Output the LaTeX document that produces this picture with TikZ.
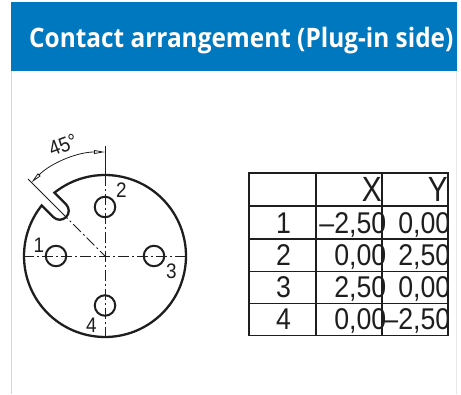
\documentclass[tikz,border=0pt]{standalone}
\usepackage{fontspec}
\setmainfont{Liberation Sans}
\newfontfamily\headfont{Open Sans}
\usetikzlibrary{arrows.meta}
\definecolor{headblue}{RGB}{0,120,191}
\definecolor{ink}{RGB}{30,30,30}
\definecolor{framegray}{RGB}{215,215,215}
\definecolor{framegrayb}{RGB}{232,232,232}
\newcommand{\tabtxt}[1]{\scalebox{0.89}[1]{\fontsize{30}{30}\selectfont #1}}
\newcommand{\hdtxt}[1]{\scalebox{0.85}[1]{\fontsize{35}{35}\selectfont #1}}
\newcommand{\pintxt}[1]{\scalebox{0.9}[1]{\fontsize{21}{21}\selectfont #1}}
\begin{document}
\begin{tikzpicture}[x=1pt,y=-1pt,
  outline/.style={draw=ink, line width=2.3pt},
  pinhole/.style={circle, draw=ink, line width=2pt, minimum size=20.5pt, inner sep=0pt},
  axisline/.style={draw=ink, line width=0.8pt, dash pattern=on 11pt off 3pt on 2pt off 3pt},
  extline/.style={draw=ink, line width=0.8pt},
  dimline/.style={draw=ink, line width=0.8pt, {Triangle[open,length=11pt,width=3.8pt]}-{Triangle[open,length=11pt,width=3.8pt]}},
  grid/.style={draw=ink, line width=1.6pt},
  lbl/.style={inner sep=0pt, text=ink}
]
\useasboundingbox (0,0) rectangle (461,394);
\fill[white] (0,0) rectangle (461,394);
% header
\fill[headblue] (11,2) rectangle (457,71);
\node[anchor=base west, text=white, inner sep=0pt] (title) at (29,47)
  {\scalebox{0.91}[1]{\headfont\bfseries\fontsize{26.8}{30}\selectfont Contact arrangement (Plug-in side)}};
\draw[framegray, line width=1.2pt] (11.5,71) -- (11.5,394);
\draw[framegrayb, line width=1.6pt] (456.5,71) -- (456.5,394);

% connector face with keyway
\coordinate (C) at (105,256);
\draw[outline] (54.44,192.72) arc[start angle=231.37, end angle=578.63, radius=81]
  -- (53.39,217.11) arc[start angle=135, end angle=-45, radius=9] -- cycle;

% centre lines
\coordinate (hl) at (23,256);
\coordinate (hr) at (186,256);
\coordinate (vt) at (105,146);
\coordinate (vc) at (105,175);
\coordinate (vb) at (105,337);
\coordinate (dt) at (28,179);
\coordinate (dk) at (59.75,210.75);
\draw[axisline] (hl) -- (hr);
\draw[extline] (vt) -- (vc);
\draw[axisline] (vc) -- (vb);
\draw[extline] (dt) -- (dk);
\draw[axisline] (dk) -- (C);

% pins
\node[pinhole] (p1) at (56,256) {};
\node[pinhole] (p2) at (105,207) {};
\node[pinhole] (p3) at (154,256) {};
\node[pinhole] (p4) at (105,305.5) {};

\node[lbl, anchor=base] (l1) at (39,252.5) {\pintxt{1}};
\node[lbl, anchor=base] (l2) at (121.5,197) {\pintxt{2}};
\node[lbl, anchor=base] (l3) at (171.5,278) {\pintxt{3}};
\node[lbl, anchor=base] (l4) at (91.5,332) {\pintxt{4}};

% 45 degree dimension
\draw[dimline] (105,152) arc[start angle=270, end angle=225, radius=104];
\node[lbl, rotate=21] (ang) at (63,145) {\scalebox{0.9}[1]{\fontsize{21}{21}\selectfont 45°}};

% table
\draw[grid] (249,173) rectangle (448,335.5);
\foreach \yy in {206,239,271.5,303.5} \draw[grid] (249,\yy) -- (448,\yy);
\draw[grid] (316,173) -- (316,335.5);
\draw[grid] (382,173) -- (382,335.5);

\node[lbl, anchor=base east] (hx) at (382,201.5) {\hdtxt{X}};
\node[lbl, anchor=base east] (hy) at (448,201.5) {\hdtxt{Y}};

\node[lbl, anchor=base] (r1) at (283.5,233) {\tabtxt{1}};
\node[lbl, anchor=base] (r2) at (283.5,265) {\tabtxt{2}};
\node[lbl, anchor=base] (r3) at (283.5,297.5) {\tabtxt{3}};
\node[lbl, anchor=base] (r4) at (283.5,329) {\tabtxt{4}};

\node[lbl, anchor=base east] (x1) at (386.5,233) {\tabtxt{–2,50}};
\node[lbl, anchor=base east] (x2) at (386.5,265) {\tabtxt{0,00}};
\node[lbl, anchor=base east] (x3) at (386.5,297.5) {\tabtxt{2,50}};
\node[lbl, anchor=base east] (x4) at (386.5,329) {\tabtxt{0,00}};

\node[lbl, anchor=base east] (y1) at (450.5,233) {\tabtxt{0,00}};
\node[lbl, anchor=base east] (y2) at (450.5,265) {\tabtxt{2,50}};
\node[lbl, anchor=base east] (y3) at (450.5,297.5) {\tabtxt{0,00}};
\node[lbl, anchor=base east] (y4) at (450.5,329) {\tabtxt{–2,50}};
\end{tikzpicture}
\end{document}
